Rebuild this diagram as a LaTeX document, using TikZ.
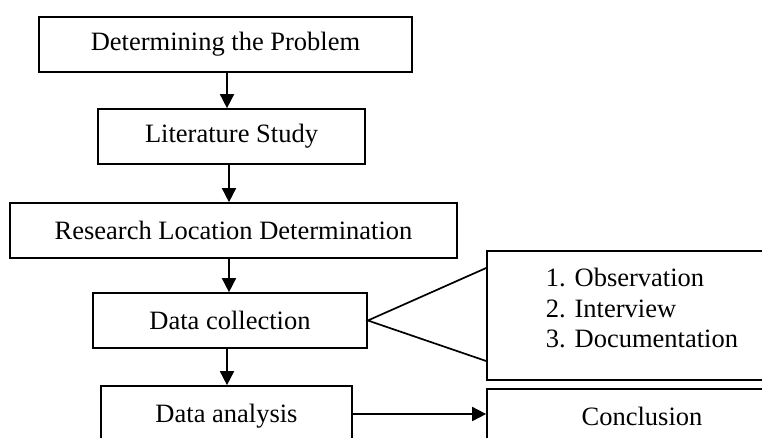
\documentclass[tikz,border=0pt]{standalone}
\usepackage{fontspec}
\setmainfont{Liberation Serif}
\usetikzlibrary{arrows.meta,calc}
\tikzset{
    box/.style={draw, line width=1.7pt, minimum height=55pt, inner sep=0pt},
    arr/.style={-{Triangle[width=14pt,length=14pt]}, line width=1.7pt}
}
\begin{document}
\begin{tikzpicture}[x=1pt, y=-1pt, font=\fontsize{26.5}{30.5}\selectfont]
    \clip (0,0) rectangle (762,437);
    \node[box, minimum width=373pt] (prob) at (225.5,44.5) {Determining the Problem};
    \node[box, minimum width=267pt] (lit) at (231.5,136.5) {Literature Study};
    \node[box, minimum width=447pt] (loc) at (233.5,230.5) {Research Location Determination};
    \node[box, minimum width=274pt] (coll) at (230,320.5) {Data collection};
    \node[box, minimum width=251pt, minimum height=60pt] (anal) at (226.5,416) {Data analysis};
    \node[box, minimum width=310pt, minimum height=129pt, align=left] (list) at (642,315.5)
        {1. Observation\\2. Interview\\3. Documentation\\[-16pt]};
    \node[box, minimum width=310pt] (concl) at (642,416.5) {Conclusion};
    \draw[arr] (prob.south -| 227,0) -- (lit.north -| 227,0);
    \draw[arr] (lit.south -| 229,0) -- (loc.north -| 229,0);
    \draw[arr] (loc.south -| 229,0) -- (coll.north -| 229,0);
    \draw[arr] (coll.south -| 227,0) -- (anal.north -| 227,0);
    \draw[line width=1.7pt] ($(list.west)+(0,-47.5)$) -- (coll.east) -- ($(list.west)+(0,45.5)$);
    \draw[arr] (anal.east |- 0,414) -- (concl.west |- 0,414);
\end{tikzpicture}
\end{document}
